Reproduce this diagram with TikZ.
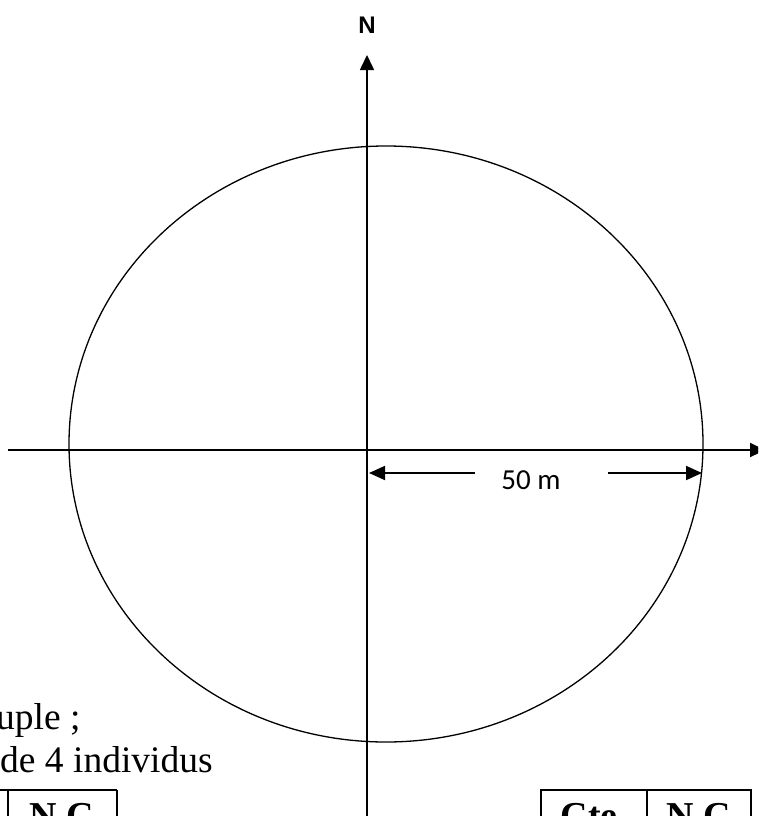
\documentclass[tikz,border=0pt]{standalone}
\usepackage{fontspec}
\setmainfont{Liberation Serif}
\newfontfamily\calibri{Carlito}
\newfontfamily\arial{Liberation Sans}
\usetikzlibrary{arrows.meta,positioning}

\begin{document}
\begin{tikzpicture}[x=1pt,y=-1pt,
    axe/.style={line width=1.6pt},
    tip/.style={-{Triangle[length=15pt,width=14pt]}},
    cote/.style={line width=1.8pt,-{Triangle[length=16pt,width=14pt]}},
    texte/.style={anchor=base west,inner sep=0pt,font=\fontsize{37.5}{43}\selectfont},
    entete/.style={anchor=north,inner sep=0pt,font=\bfseries\fontsize{38}{44}\selectfont},
    grille/.style={line width=1.3pt}]
    \clip (0,0) rectangle (758,816);
    % axes
    \coordinate (sud) at (367,830);
    \coordinate (nord) at (367,55);
    \coordinate (ouest) at (8,450);
    \coordinate (est0) at (670,450);
    \coordinate (est) at (765,450);
    \draw[axe,tip] (sud) -- (nord);
    \draw[axe] (ouest) -- (est0);
    \draw[line width=2.3pt,tip] (est0) -- (est);
    \node[font=\arial\bfseries\fontsize{24}{28}\selectfont] (N) at (367,25) {N};
    % cercle de 50 m
    \draw[line width=1.3pt] (386,444) ellipse [x radius=317, y radius=298];
    \node[font=\calibri\fontsize{29}{34}\selectfont] (cote) at (531,480) {50 m};
    \coordinate (cg0) at (475,473);
    \coordinate (cg) at (369,473);
    \coordinate (cd0) at (608,473);
    \coordinate (cd) at (702,473);
    \draw[cote] (cg0) -- (cg);
    \draw[cote] (cd0) -- (cd);
    % texte
    \node[texte] (ligne1) at (-4,729) {uple ;};
    \node[texte] (ligne2) at (0,772) {de 4 individus};
    % tableaux
    \draw[grille] (-5,790) -- (117,790);
    \draw[grille] (8,790) -- (8,830);
    \draw[grille] (117,790) -- (117,830);
    \node[entete] (nc1) at (62,803) {N.C};
    \draw[grille] (541,790) rectangle (751,830);
    \draw[grille] (647,790) -- (647,830);
    \node[entete] (cte) at (594,803) {Cte.};
    \node[entete] (nc2) at (699,803) {N.C};
\end{tikzpicture}
\end{document}
